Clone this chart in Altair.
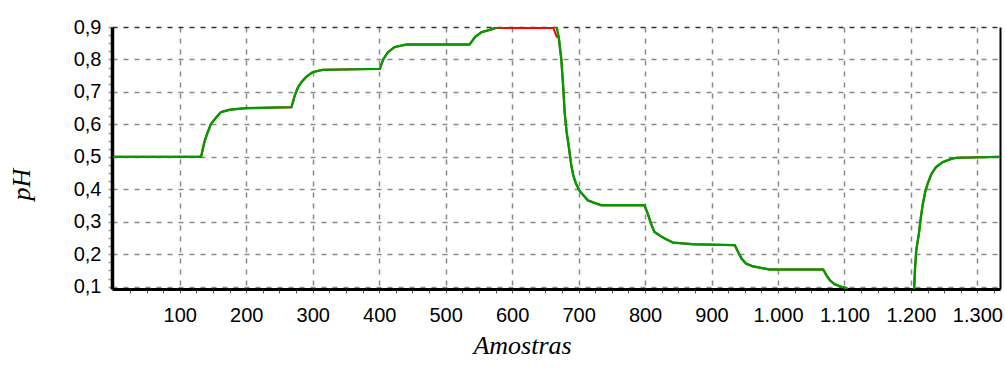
import altair as alt
import pandas as pd

# sample index (Amostras)
amostras = [0, 132, 137, 142, 147, 155, 162, 175, 198, 268, 273, 278, 283, 290, 300, 315,
            401, 406, 413, 423, 441, 536, 544, 554, 566, 576, 586, 592, 662, 667, 670, 674, 677,
            679, 682, 685, 689, 692, 696, 701, 707, 714, 724, 734, 799, 804, 809, 814, 822,
            830, 842, 872, 935, 940, 945, 952, 962, 987, 1068, 1073, 1078, 1085, 1095, 1103,
            1110, 1203, 1205, 1206, 1208, 1212, 1215, 1218, 1222, 1226, 1231, 1238, 1248,
            1261, 1268, 1334]

# green series (pH)
ph_verde = [0.5, 0.5, 0.546, 0.576, 0.602, 0.622, 0.638, 0.645, 0.65, 0.653, 0.689, 0.715,
            0.73, 0.746, 0.761, 0.768, 0.771, 0.8, 0.822, 0.838, 0.846, 0.846, 0.869, 0.884,
            0.891, 0.899, 0.9, 0.906, 0.906, 0.9, 0.87, 0.8, 0.71, 0.638, 0.576, 0.535, 0.474,
            0.443, 0.418, 0.397, 0.382, 0.366, 0.358, 0.351, 0.351, 0.325, 0.294, 0.269,
            0.258, 0.248, 0.236, 0.231, 0.228, 0.207, 0.187, 0.171, 0.163, 0.153, 0.153,
            0.135, 0.12, 0.108, 0.1, 0.096, 0.05, 0.05, 0.1, 0.151, 0.212, 0.264, 0.315,
            0.356, 0.397, 0.422, 0.448, 0.469, 0.484, 0.494, 0.497, 0.5]

# red series (pH, saturated at the top)
ph_vermelho = [0.5, 0.5, 0.546, 0.576, 0.602, 0.622, 0.638, 0.645, 0.65, 0.653, 0.689, 0.715,
               0.73, 0.746, 0.761, 0.768, 0.771, 0.8, 0.822, 0.838, 0.846, 0.846, 0.869, 0.884,
               0.891, 0.897, 0.897, 0.897, 0.897, 0.87, 0.87, 0.8, 0.71, 0.638, 0.576, 0.535, 0.474,
               0.443, 0.418, 0.397, 0.382, 0.366, 0.358, 0.351, 0.351, 0.325, 0.294, 0.269,
               0.258, 0.248, 0.236, 0.231, 0.228, 0.207, 0.187, 0.171, 0.163, 0.153, 0.153,
               0.135, 0.12, 0.108, 0.1, 0.096, 0.05, 0.05, 0.1, 0.151, 0.212, 0.264, 0.315,
               0.356, 0.397, 0.422, 0.448, 0.469, 0.484, 0.494, 0.497, 0.5]

x_ticks = list(range(25, 1334, 25))
y_ticks = [round(0.1 + 0.025 * k, 3) for k in range(33)]

df = pd.DataFrame({"x": amostras, "verde": ph_verde, "vermelho": ph_vermelho})

x_major = "datum.value % 100 == 0"
y_major = "abs(datum.value*10 - round(datum.value*10)) < 0.01"

x_axis = alt.Axis(
    values=x_ticks,
    labelExpr=f"{x_major} ? replace(format(datum.value, ','), ',', '.') : ''",
    labelFont="Liberation Sans", labelFontSize=20, labelColor="black",
    labelPadding=12, labelOverlap=False, labelBound=False, labelFlush=False,
    tickSize=4, tickColor="#555555", tickWidth=1,
    domainColor="black", domainWidth=3,
    grid=True,
    gridColor="#8a8a8a", gridWidth=1.5, gridDash=[5, 6],
    gridOpacity={"condition": {"test": x_major, "value": 1}, "value": 0},
    title="Amostras", titleFont="Liberation Serif", titleFontStyle="italic",
    titleFontWeight="normal", titleFontSize=26, titleColor="black",
    titleX=410, titleY=64, titleBaseline="alphabetic", titleAlign="center",
)
x_enc = alt.X("x:Q", scale=alt.Scale(domain=[-2, 1334], nice=False, zero=False), axis=x_axis)

y_scale = alt.Scale(domain=[0.093, 0.9], nice=False, zero=False)

y_axis_left = alt.Axis(
    orient="left",
    values=y_ticks,
    labelExpr=f"{y_major} ? replace(format(datum.value, '.1f'), '.', ',') : ''",
    labelFont="Liberation Sans", labelFontSize=20, labelColor="black",
    labelPadding=7, labelOverlap=False, labelBound=False, labelFlush=False,
    tickSize=4, tickColor="#9a9a9a", tickWidth=1.5,
    domainColor="black", domainWidth=3.5,
    grid=True,
    gridColor={"condition": {"test": "datum.value > 0.899", "value": "#333333"}, "value": "#8a8a8a"},
    gridWidth=1.5, gridDash=[5, 6],
    gridOpacity={"condition": {"test": y_major, "value": 1}, "value": 0},
    title="pH", titleFont="Liberation Serif", titleFontStyle="italic",
    titleFontWeight="normal", titleFontSize=26, titleColor="black",
    titleAngle=270, titleX=-83, titleY=157, titleBaseline="alphabetic", titleAlign="center",
)

y_axis_right = alt.Axis(
    orient="right", labels=False, ticks=False, grid=False, title=None,
    domainColor="black", domainWidth=2,
)

red = alt.Chart(df).mark_line(color="#ff0000", strokeWidth=2, clip=True).encode(
    x=x_enc,
    y=alt.Y("vermelho:Q", scale=y_scale, axis=y_axis_left),
    order="x:Q",
)

green = alt.Chart(df).mark_line(color="#009c00", strokeWidth=2.4, clip=True).encode(
    x=x_enc,
    y=alt.Y("verde:Q", scale=y_scale, axis=y_axis_right),
    order="x:Q",
)

chart = alt.layer(red, green).resolve_axis(y="independent").properties(
    width=888, height=262,
    autosize=alt.AutoSizeParams(type="none"),
    padding={"left": 112, "top": 27, "right": 5, "bottom": 89},
    background="white",
).configure_view(stroke=None)

chart.save("out.html", embed_options={"renderer": "svg", "actions": False})
